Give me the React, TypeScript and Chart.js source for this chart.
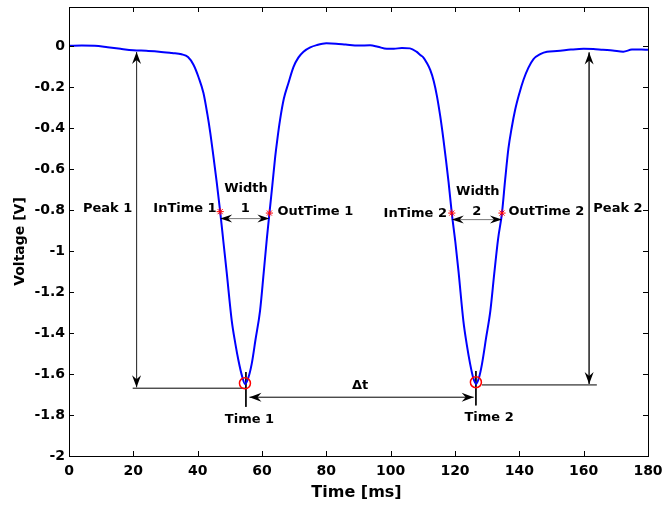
import React, { useEffect, useRef } from "react";
import { Chart, registerables } from "chart.js";

Chart.register(...registerables);

// ---- data ----
const timeMs = [
  0, 4, 8, 12, 16, 20, 24, 28, 32, 35, 37, 38.7, 40.3, 41.8, 43, 43.9, 45, 45.9, 47, 48, 49, 50.6, 51.7,
  52.7, 53.8, 54.7, 55.6, 56.8, 58, 59.4, 60.5, 61.5, 62.3, 63.2, 64.1, 64.8, 65.6, 66.8, 68.2, 69.8,
  71.3, 72.9, 75, 77, 80, 83, 86, 90, 93.6, 96, 98.8, 101, 103.5, 106, 108, 109.2, 110.2, 111.2, 112.3,
  113.4, 114.4, 115.4, 116.4, 117.2, 118, 119, 120.1, 121.1, 122.6, 123.7, 124.7, 125.7, 126.6, 127.5,
  128.4, 129.7, 131, 132.2, 133.4, 134.6, 135.6, 136.6, 137.6, 138.7, 140, 141.3, 142.8, 144.4, 146.5,
  148.6, 151.7, 156, 160, 163, 166, 169, 172.3, 175, 178, 180,
];
const voltage = [
  0.003, 0.004, 0.003, -0.004, -0.012, -0.019, -0.022, -0.026, -0.033, -0.039, -0.052, -0.09, -0.152,
  -0.228, -0.33, -0.42, -0.55, -0.66, -0.807, -0.954, -1.1, -1.34, -1.45, -1.535, -1.61, -1.648, -1.625,
  -1.55, -1.43, -1.29, -1.11, -0.94, -0.817, -0.68, -0.54, -0.45, -0.36, -0.255, -0.18, -0.1, -0.055,
  -0.026, -0.005, 0.006, 0.0145, 0.013, 0.009, 0.004, 0.005, -0.002, -0.012, -0.012, -0.008, -0.01,
  -0.026, -0.042, -0.055, -0.08, -0.115, -0.17, -0.244, -0.34, -0.454, -0.555, -0.663, -0.814, -0.954,
  -1.1, -1.34, -1.46, -1.55, -1.62, -1.648, -1.615, -1.55, -1.42, -1.29, -1.11, -0.94, -0.814, -0.65,
  -0.5, -0.4, -0.31, -0.23, -0.163, -0.105, -0.062, -0.038, -0.026, -0.023, -0.016, -0.012, -0.013,
  -0.017, -0.02, -0.026, -0.016, -0.015, -0.017,
];
const xTicks = [0, 20, 40, 60, 80, 100, 120, 140, 160, 180];
const yTicks = [-2, -1.8, -1.6, -1.4, -1.2, -1, -0.8, -0.6, -0.4, -0.2, 0];
const xRange = [0, 180];
const yRange = [-2, 0.192];

const peakTimes = [54.7, 126.5];
const peakValues = [-1.645, -1.64];
const crossTimes = [47, 62.3, 119, 134.6];
const crossValues = [-0.807, -0.814, -0.814, -0.814];

// annotation segments (data coordinates); heads: 0 none, 1 at end, 2 at start, 3 both
const segX1 = [21, 19.8, 55, 56.1, 126.5, 128.4, 161.7, 47, 119];
const segY1 = [-0.028, -1.669, -1.59, -1.713, -1.585, -1.653, -0.03, -0.841, -0.846];
const segX2 = [21, 55, 55, 125.8, 126.5, 164.1, 161.7, 62.3, 134.6];
const segY2 = [-1.664, -1.669, -1.76, -1.713, -1.753, -1.653, -1.648, -0.841, -0.846];
const segHeads = [3, 0, 0, 3, 0, 0, 3, 3, 3];
const segColors = ["#3a3a3a", "#000000", "#000000", "#000000", "#000000", "#000000", "#3a3a3a", "#7a7a7a", "#7a7a7a"];

const labelTexts = ["Peak 1", "InTime 1", "Width", "1", "OutTime 1", "Width", "2", "InTime 2", "OutTime 2", "Peak 2", "Time 1", "Time 2", "\u0394t"];
const labelX = [12.0, 45.9, 55.0, 54.8, 64.8, 127.1, 126.8, 117.5, 136.6, 163.0, 56.1, 130.6, 90.5];
const labelY = [-0.793, -0.794, -0.696, -0.794, -0.809, -0.707, -0.809, -0.817, -0.809, -0.793, -1.821, -1.815, -1.656];
const labelAlign = ["center", "right", "center", "center", "left", "center", "center", "right", "left", "left", "center", "center", "center"];

const FONT = "'DejaVu Sans', 'Liberation Sans', sans-serif";

function drawHead(ctx: CanvasRenderingContext2D, tx: number, ty: number, fx: number, fy: number, half: number) {
  const dx = tx - fx;
  const dy = ty - fy;
  const L = Math.hypot(dx, dy) || 1;
  const ux = dx / L;
  const uy = dy / L;
  const px = -uy;
  const py = ux;
  const len = 12;
  const notch = 4;
  const bx = tx - ux * len;
  const by = ty - uy * len;
  ctx.beginPath();
  ctx.moveTo(tx, ty);
  ctx.lineTo(bx + px * half, by + py * half);
  ctx.lineTo(tx - ux * (len - notch), ty - uy * (len - notch));
  ctx.lineTo(bx - px * half, by - py * half);
  ctx.closePath();
  ctx.fill();
}

const overlayPlugin = {
  id: "overlay",
  afterDatasetsDraw(chart: any) {
    const ctx: CanvasRenderingContext2D = chart.ctx;
    const xs = chart.scales.x;
    const ys = chart.scales.y;
    const { left, right, top, bottom } = chart.chartArea;
    ctx.save();
    ctx.fillStyle = "#000";
    for (let i = 0; i < segX1.length; i++) {
      const x1 = xs.getPixelForValue(segX1[i]);
      const y1 = ys.getPixelForValue(segY1[i]);
      const x2 = xs.getPixelForValue(segX2[i]);
      const y2 = ys.getPixelForValue(segY2[i]);
      const half = i >= 7 ? 4 : 4.5;
      if (segHeads[i] & 1) drawHead(ctx, x2, y2, x1, y1, half);
      if (segHeads[i] & 2) drawHead(ctx, x1, y1, x2, y2, half);
    }
    ctx.fillStyle = "#000";
    ctx.font = `bold 13px ${FONT}`;
    ctx.textBaseline = "middle";
    for (let i = 0; i < labelTexts.length; i++) {
      ctx.textAlign = labelAlign[i] as CanvasTextAlign;
      ctx.fillText(labelTexts[i], xs.getPixelForValue(labelX[i]), ys.getPixelForValue(labelY[i]));
    }
    ctx.strokeStyle = "#000";
    ctx.lineWidth = 1;
    ctx.strokeRect(Math.round(left) + 0.5, Math.round(top) + 0.5, Math.round(right - left), Math.round(bottom - top));
    const tl = 5;
    ctx.beginPath();
    for (const v of xTicks) {
      const x = Math.round(xs.getPixelForValue(v)) + 0.5;
      ctx.moveTo(x, bottom);
      ctx.lineTo(x, bottom - tl);
      ctx.moveTo(x, top);
      ctx.lineTo(x, top + tl);
    }
    for (const v of yTicks) {
      const y = Math.round(ys.getPixelForValue(v)) + 0.5;
      ctx.moveTo(left, y);
      ctx.lineTo(left + tl, y);
      ctx.moveTo(right, y);
      ctx.lineTo(right - tl, y);
    }
    ctx.stroke();
    ctx.fillStyle = "#000";
    ctx.textAlign = "center";
    ctx.textBaseline = "middle";
    ctx.font = `bold 16px ${FONT}`;
    ctx.fillText("Time [ms]", (left + right) / 2 - 2, bottom + 37);
    ctx.save();
    ctx.translate(20.5, (top + bottom) / 2 + 10);
    ctx.rotate(-Math.PI / 2);
    ctx.font = `bold 14px ${FONT}`;
    ctx.fillText("Voltage [V]", 0, 0);
    ctx.restore();
    ctx.restore();
  },
};

export default function App() {
  const ref = useRef<HTMLCanvasElement | null>(null);
  useEffect(() => {
    document.body.style.margin = "0";
    if (!ref.current) return;
    const segDatasets = segX1.map((_, i) => ({
      type: "line" as const,
      data: [
        { x: segX1[i], y: segY1[i] },
        { x: segX2[i], y: segY2[i] },
      ],
      borderColor: segColors[i],
      borderWidth: 1,
      pointRadius: 0,
      showLine: true,
      order: 5,
    }));
    const tickFont = { family: FONT, size: 14, weight: "bold" };
    const chart = new Chart(ref.current, {
      type: "line",
      data: {
        datasets: [
          {
            type: "scatter" as any,
            data: peakTimes.map((t, i) => ({ x: t, y: peakValues[i] })),
            pointStyle: "circle",
            pointRadius: 5.5,
            borderColor: "#ff0000",
            backgroundColor: "rgba(0,0,0,0)",
            borderWidth: 1.5,
            showLine: false,
            order: 0,
          },
          {
            type: "scatter" as any,
            data: crossTimes.map((t, i) => ({ x: t, y: crossValues[i] })),
            pointStyle: "star",
            pointRadius: 3.6,
            borderColor: "#ff0000",
            backgroundColor: "#ff0000",
            borderWidth: 1,
            showLine: false,
            order: 0,
          },
          {
            data: timeMs.map((t, i) => ({ x: t, y: voltage[i] })),
            borderColor: "#0000ff",
            borderWidth: 2,
            pointRadius: 0,
            cubicInterpolationMode: "monotone",
            fill: false,
            order: 1,
          },
          ...segDatasets,
        ] as any,
      },
      options: {
        animation: false,
        responsive: false,
        layout: { padding: { top: 3, right: 16, left: 0, bottom: 0 } },
        plugins: { legend: { display: false }, tooltip: { enabled: false } },
        scales: {
          x: {
            type: "linear",
            min: xRange[0],
            max: xRange[1],
            grid: { display: false, drawTicks: false },
            border: { display: false },
            ticks: {
              color: "#000",
              font: tickFont,
              padding: 7,
              maxRotation: 0,
              autoSkip: false,
              callback: (v: any) => String(v),
            },
            afterBuildTicks: (s: any) => {
              s.ticks = xTicks.map((v) => ({ value: v }));
            },
            afterFit: (s: any) => {
              s.height = 50;
              s.paddingLeft = 0;
              s.paddingRight = 0;
            },
          },
          y: {
            type: "linear",
            min: yRange[0],
            max: yRange[1],
            grid: { display: false, drawTicks: false },
            border: { display: false },
            ticks: {
              color: "#000",
              font: tickFont,
              padding: 4,
              autoSkip: false,
              callback: (v: any) => {
                const r = Math.round(Number(v) * 10) / 10;
                return r === 0 ? "0" : String(r);
              },
            },
            afterBuildTicks: (s: any) => {
              s.ticks = yTicks.map((v) => ({ value: v }));
            },
            afterFit: (s: any) => {
              s.width = 69;
              s.paddingTop = 0;
              s.paddingBottom = 0;
            },
          },
        },
      } as any,
      plugins: [overlayPlugin],
    });
    return () => chart.destroy();
  }, []);
  return (
    <div style={{ position: "fixed", left: 0, top: 0, width: 664, height: 506, background: "#fff" }}>
      <canvas ref={ref} width={664} height={506} />
    </div>
  );
}
